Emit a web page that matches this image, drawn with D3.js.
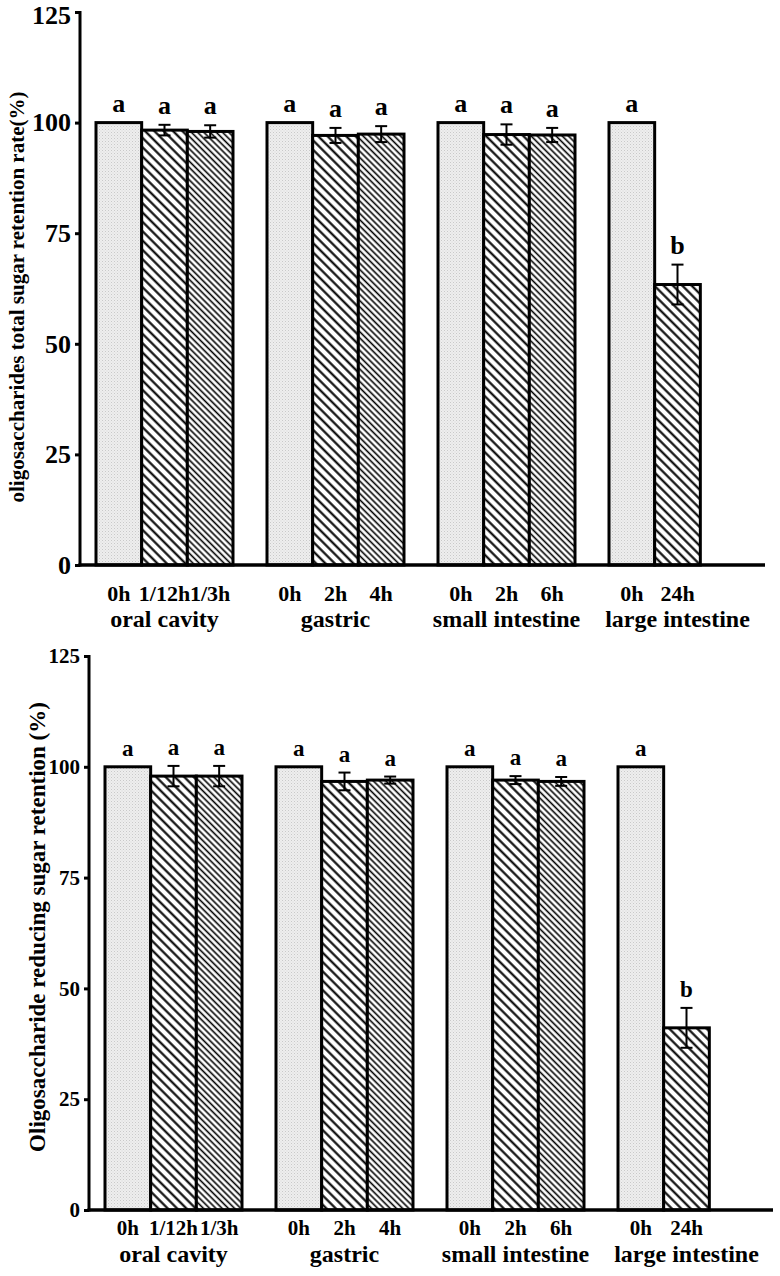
<!DOCTYPE html>
<html>
<head>
<meta charset="utf-8">
<script src="https://cdn.jsdelivr.net/npm/d3@7"></script>
<style>
  html, body { margin: 0; padding: 0; background: #fff; }
  svg { display: block; }
  text { font-family: "Liberation Serif", "Times New Roman", serif; font-weight: bold; fill: #000; }
</style>
</head>
<body>
<script>
// ---------- data ----------
const groups = ["oral cavity", "gastric", "small intestine", "large intestine"];
const timeLabels = [["0h", "1/12h", "1/3h"], ["0h", "2h", "4h"], ["0h", "2h", "6h"], ["0h", "24h"]];
const yTicks = [0, 25, 50, 75, 100, 125];

const totalSugar    = [[100, 98.3, 98.0], [100, 97.1, 97.4], [100, 97.3, 97.2], [100, 63.4]];
const totalSugarErr = [[0, 1.2, 1.4], [0, 1.7, 1.8], [0, 2.3, 1.6], [0, 4.5]];
const totalSugarSig = [["a", "a", "a"], ["a", "a", "a"], ["a", "a", "a"], ["a", "b"]];

const reducingSugar    = [[100, 97.9, 97.9], [100, 96.7, 97.0], [100, 97.0, 96.7], [100, 41.1]];
const reducingSugarErr = [[0, 2.3, 2.3], [0, 2.0, 0.8], [0, 0.9, 1.0], [0, 4.5]];
const reducingSugarSig = [["a", "a", "a"], ["a", "a", "a"], ["a", "a", "a"], ["a", "b"]];

const titleTop = "oligosaccharides total sugar retention rate(%)";
const titleBottom = "Oligosaccharide reducing sugar retention (%)";

// ---------- svg & patterns ----------
const svg = d3.select("body").append("svg").attr("width", 780).attr("height", 1276);
const defs = svg.append("defs");

const dots = defs.append("pattern").attr("id", "dots").attr("patternUnits", "userSpaceOnUse")
  .attr("width", 3).attr("height", 3);
dots.append("rect").attr("width", 3).attr("height", 3).attr("fill", "#eeeeee");
dots.append("rect").attr("x", 0).attr("y", 0).attr("width", 1).attr("height", 1).attr("fill", "#c9c9c9");
dots.append("rect").attr("x", 1.5).attr("y", 1.5).attr("width", 1).attr("height", 1).attr("fill", "#d8d8d8");

function hatch(id, size, sw) {
  const p = defs.append("pattern").attr("id", id).attr("patternUnits", "userSpaceOnUse")
    .attr("width", size).attr("height", size).attr("patternTransform", "rotate(-45)");
  p.append("rect").attr("width", size).attr("height", size).attr("fill", "#fff");
  p.append("line").attr("x1", size / 2).attr("y1", 0).attr("x2", size / 2).attr("y2", size)
    .attr("stroke", "#000").attr("stroke-width", sw);
}
hatch("hatchWide", 6.6, 2.1);
hatch("hatchDense", 4.4, 1.6);
const fills = ["url(#dots)", "url(#hatchWide)", "url(#hatchDense)"];

// ---------- chart drawing ----------
function drawChart(cfg, values, errs, sigs, title) {
  const g = svg.append("g");
  const y = d3.scaleLinear().domain([0, 125]).range([cfg.y0, cfg.y1]);
  const xg = d3.scaleBand().domain(groups).range([cfg.xStart, cfg.xEnd]).paddingInner(34 / 171).paddingOuter(0);
  const xi = d3.scaleBand().domain([0, 1, 2]).range([0, xg.bandwidth()]).padding(0);

  const bars = [];
  groups.forEach((grp, gi) => {
    values[gi].forEach((v, i) => {
      bars.push({ grp, i, v, e: errs[gi][i], sig: sigs[gi][i], label: timeLabels[gi][i] });
    });
  });

  // bars
  g.selectAll("rect.bar").data(bars).join("rect")
    .attr("class", "bar")
    .attr("x", d => xg(d.grp) + xi(d.i))
    .attr("width", xi.bandwidth())
    .attr("y", d => y(d.v))
    .attr("height", d => y(0) - y(d.v))
    .attr("fill", d => d.label === "24h" ? fills[1] : fills[d.i])
    .attr("stroke", "#000").attr("stroke-width", 3);

  // error bars
  const eb = bars.filter(d => d.e > 0);
  const cx = d => xg(d.grp) + xi(d.i) + xi.bandwidth() / 2;
  g.selectAll("line.ev").data(eb).join("line")
    .attr("x1", cx).attr("x2", cx)
    .attr("y1", d => y(d.v + d.e)).attr("y2", d => y(d.v - d.e))
    .attr("stroke", "#000").attr("stroke-width", 2);
  ["up", "dn"].forEach(k => {
    g.selectAll("line.cap" + k).data(eb).join("line")
      .attr("x1", d => cx(d) - 6).attr("x2", d => cx(d) + 6)
      .attr("y1", d => y(k === "up" ? d.v + d.e : d.v - d.e))
      .attr("y2", d => y(k === "up" ? d.v + d.e : d.v - d.e))
      .attr("stroke", "#000").attr("stroke-width", 2);
  });

  // significance letters
  g.selectAll("text.sig").data(bars).join("text")
    .attr("x", cx)
    .attr("y", d => y(d.v + d.e) - 11)
    .attr("text-anchor", "middle")
    .style("font-size", cfg.sigSize + "px")
    .text(d => d.sig);

  // y axis
  const yAxis = d3.axisLeft(y).tickValues(yTicks).tickSize(5).tickPadding(4).tickFormat(d3.format("d"));
  const ya = g.append("g").attr("transform", `translate(${cfg.axisX},0)`).call(yAxis);
  ya.select(".domain").remove();
  ya.selectAll(".tick line").attr("stroke", "#000").attr("stroke-width", 3);
  ya.selectAll(".tick text").style("font-size", cfg.tickSize + "px")
    .style("font-family", "'Liberation Serif', 'Times New Roman', serif").style("font-weight", "bold")
    .attr("dy", d => (d === 125 && cfg.topTickDy) ? cfg.topTickDy : "0.32em");
  g.append("line").attr("x1", cfg.axisX).attr("x2", cfg.axisX)
    .attr("y1", y(125) - 1).attr("y2", y(0) + 1.5).attr("stroke", "#000").attr("stroke-width", 3);

  // x baseline
  g.append("line").attr("x1", cfg.axisX - 1.5).attr("x2", cfg.xAxisEnd)
    .attr("y1", y(0)).attr("y2", y(0)).attr("stroke", "#000").attr("stroke-width", 3.5);

  // time labels
  g.selectAll("text.tl").data(bars).join("text")
    .attr("x", cx)
    .attr("y", y(0) + cfg.subDy)
    .attr("text-anchor", "middle")
    .style("font-size", cfg.subSize + "px")
    .text(d => d.label);

  // group labels
  g.selectAll("text.gl").data(groups).join("text")
    .attr("x", d => xg(d) + xg.bandwidth() / 2)
    .attr("y", y(0) + cfg.grpDy)
    .attr("text-anchor", "middle")
    .style("font-size", cfg.grpSize + "px")
    .text(d => d);

  // y title
  g.append("text")
    .attr("transform", `translate(${cfg.titleX},${cfg.titleY}) rotate(-90)`)
    .attr("text-anchor", "middle")
    .style("font-size", cfg.titleSize + "px")
    .text(title);
}

drawChart({
  y0: 565, y1: 12, xStart: 96, xEnd: 746, axisX: 80, xAxisEnd: 765,
  tickSize: 26, topTickDy: "0.46em", subSize: 22, subDy: 36, grpSize: 24, grpDy: 62, sigSize: 26,
  titleX: 24, titleY: 297, titleSize: 21
}, totalSugar, totalSugarErr, totalSugarSig, titleTop);

drawChart({
  y0: 1210, y1: 656, xStart: 105, xEnd: 755, axisX: 89, xAxisEnd: 773,
  tickSize: 21, subSize: 21, subDy: 25, grpSize: 24, grpDy: 52, sigSize: 23,
  titleX: 45, titleY: 927, titleSize: 23
}, reducingSugar, reducingSugarErr, reducingSugarSig, titleBottom);
</script>
</body>
</html>
